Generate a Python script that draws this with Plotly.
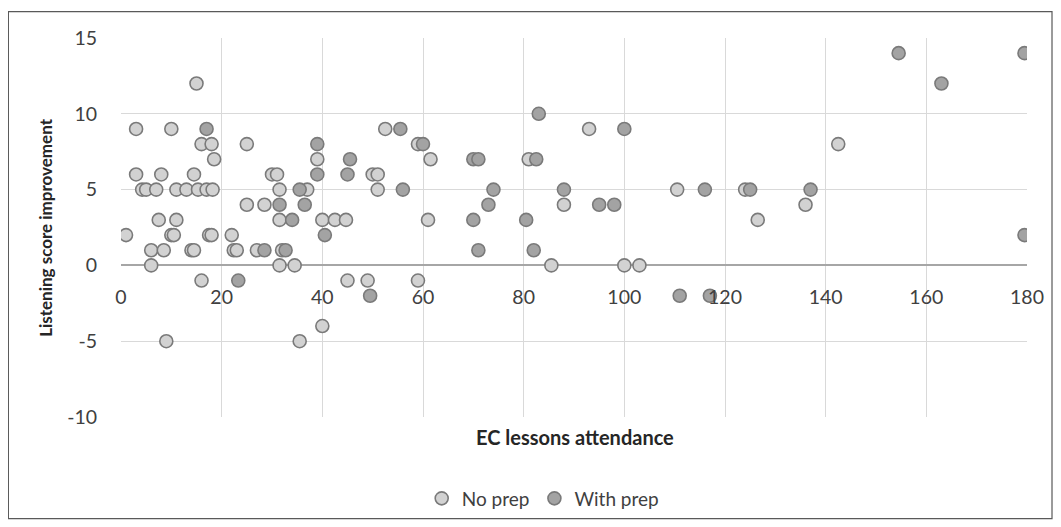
import plotly.graph_objects as go

# No prep series
no_prep_x = [3, 10, 16, 18, 18.5, 3, 8, 14.5, 4.2, 5, 7, 11, 13, 15.3, 17, 18.2, 7.5, 11, 1, 10, 10.5, 17.5, 18, 22,
             6, 8.5, 14, 14.5, 22.4, 23, 6, 16, 9, 15,
             25, 39, 30, 31, 31.5, 37, 25, 28.5, 31.5, 40, 42.5, 44.7, 27, 32, 31.5, 34.5, 45, 49, 35.5, 40,
             52.5, 59, 61.5, 50, 51, 51, 61, 59,
             93, 81, 110.5, 88, 85.5, 100, 103,
             142.5, 124, 136, 126.5]
no_prep_y = [9, 9, 8, 8, 7, 6, 6, 6, 5, 5, 5, 5, 5, 5, 5, 5, 3, 3, 2, 2, 2, 2, 2, 2,
             1, 1, 1, 1, 1, 1, 0, -1, -5, 12,
             8, 7, 6, 6, 5, 5, 4, 4, 3, 3, 3, 3, 1, 1, 0, 0, -1, -1, -5, -4,
             9, 8, 7, 6, 6, 5, 3, -1,
             9, 7, 5, 4, 0, 0, 0,
             8, 5, 4, 3]

# With prep series
with_prep_x = [17, 23.3, 39, 45.5, 39, 45, 35.5, 31.5, 36.5, 34, 40.5, 28.5, 32.7, 49.5,
               55.5, 60, 70, 71, 56, 74, 73, 70, 71,
               100, 83, 82.5, 88, 95, 98, 80.5, 82, 111,
               116, 125, 137, 117,
               154.5, 163, 179.5, 179.5]
with_prep_y = [9, -1, 8, 7, 6, 6, 5, 4, 4, 3, 2, 1, 1, -2,
               9, 8, 7, 7, 5, 5, 4, 3, 1,
               9, 10, 7, 5, 4, 4, 3, 1, -2,
               5, 5, 5, -2,
               14, 12, 14, 2]

x_ticks = [0, 20, 40, 60, 80, 100, 120, 140, 160, 180]
y_ticks = [-10, -5, 0, 5, 10, 15]

FONT = "Lato, 'Open Sans', sans-serif"
OUTLINE = "#7a7a7a"
TICKC = "#404040"

fig = go.Figure()
fig.add_trace(go.Scatter(
    x=no_prep_x, y=no_prep_y, mode="markers", name="No prep",
    marker=dict(size=13, color="#d2d2d2", line=dict(color=OUTLINE, width=1.6)),
))
fig.add_trace(go.Scatter(
    x=with_prep_x, y=with_prep_y, mode="markers", name="With prep",
    marker=dict(size=13, color="#a3a3a3", line=dict(color=OUTLINE, width=1.6)),
))

fig.update_layout(
    width=1061, height=527,
    margin=dict(l=113, r=42, t=30, b=118, autoexpand=False),
    paper_bgcolor="white", plot_bgcolor="white",
    font=dict(family=FONT, size=19, color=TICKC),
    showlegend=True,
    legend=dict(orientation="h", x=0.466, y=-0.215, xanchor="center", yanchor="middle",
                font=dict(size=19, color=TICKC), itemwidth=30, tracegroupgap=0),
    xaxis=dict(range=[0, 180], tickvals=x_ticks, ticktext=[str(v) for v in x_ticks],
               showgrid=True, gridcolor="#d9d9d9", gridwidth=1.3,
               zeroline=False, showline=False,
               anchor="free", position=0.4, ticks="outside", ticklen=14, tickcolor="rgba(0,0,0,0)",
               tickfont=dict(size=19.5, color=TICKC), fixedrange=True),
    yaxis=dict(range=[-10, 15], tickvals=y_ticks, ticktext=[str(v) for v in y_ticks],
               showgrid=True, gridcolor="#d9d9d9", gridwidth=1.3,
               zeroline=True, zerolinecolor="#a6a6a6", zerolinewidth=1.5,
               showline=False, ticks="outside", ticklen=19, tickcolor="rgba(0,0,0,0)",
               tickfont=dict(size=19.5, color=TICKC), fixedrange=True),
    annotations=[
        dict(text="<b>EC lessons attendance</b>", xref="paper", yref="paper", x=0.5007, y=-0.054,
             showarrow=False, font=dict(size=20, color="#262626"), xanchor="center", yanchor="middle"),
        dict(text="<b>Listening score improvement</b>", xref="paper", yref="paper", x=-0.0835, y=0.5,
             textangle=-90, showarrow=False, font=dict(size=17, color="#262626"),
             xanchor="center", yanchor="middle"),
    ],
    shapes=[
        dict(type="rect", xref="paper", yref="paper", x0=-0.1243, x1=1.0276, y0=-0.268, y1=1.0694,
             line=dict(color="#595959", width=1.2), fillcolor="rgba(0,0,0,0)", layer="below"),
    ],
)

fig.write_html("out.html")
